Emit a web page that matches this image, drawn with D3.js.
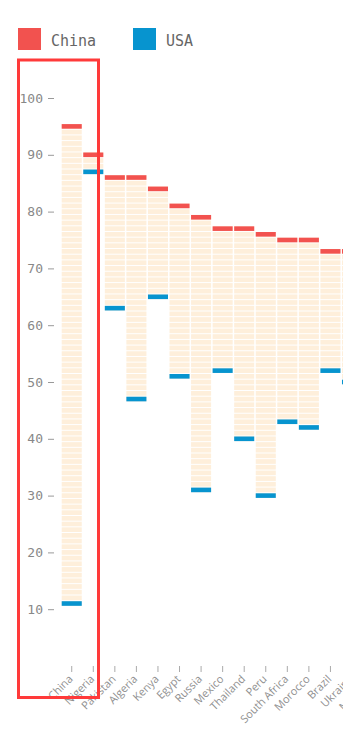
<!DOCTYPE html>
<html>
<head>
<meta charset="utf-8">
<script src="https://cdn.jsdelivr.net/npm/d3@7"></script>
<style>
  html, body { margin: 0; padding: 0; background: #fff; overflow: hidden; }
  svg { display: block; }
</style>
</head>
<body>
<svg id="chart" width="343" height="729"></svg>
<script>
const countries = ["China","Nigeria","Pakistan","Algeria","Kenya","Egypt","Russia","Mexico","Thailand","Peru","South Africa","Morocco","Brazil","Ukraine","Malaysia"];
const chinaValues = [95, 90, 86, 86, 84, 81, 79, 77, 77, 76, 75, 75, 73, 73, 72];
const usaValues   = [11, 87, 63, 47, 65, 51, 31, 52, 40, 30, 43, 42, 52, 50, 55];
const yTicks = [10, 20, 30, 40, 50, 60, 70, 80, 90, 100];
const seriesNames = ["China", "USA"];

const RED = "#f2524f", BLUE = "#0794cf", CELL = "#feefdb";
const svg = d3.select("#chart");

const y = d3.scaleLinear().domain([0, 100]).range([666, 98]);
const step = 21.56;
const x = d3.scaleBand().domain(countries)
  .range([61.7 - 0.5 * step, 61.7 - 0.5 * step + step * (countries.length - 0.07 + 1)])
  .paddingInner(0.07).paddingOuter(0.5);

const data = countries.map((c, i) => ({ c, china: chinaValues[i], usa: usaValues[i] }));

// cells
const unit = y(0) - y(1);
data.forEach(d => {
  const lo = Math.min(d.china, d.usa), hi = Math.max(d.china, d.usa);
  const cells = d3.range(lo, hi + 1);
  svg.append("g").selectAll("rect").data(cells).join("rect")
    .attr("x", x(d.c))
    .attr("width", x.bandwidth())
    .attr("y", v => y(v + 0.5) + 0.5)
    .attr("height", unit - 1)
    .attr("fill", CELL);
});

// markers
svg.append("g").selectAll("rect").data(data).join("rect")
  .attr("x", d => x(d.c)).attr("width", x.bandwidth())
  .attr("y", d => y(d.usa) - 2.3).attr("height", 4.6).attr("fill", BLUE);
svg.append("g").selectAll("rect").data(data).join("rect")
  .attr("x", d => x(d.c)).attr("width", x.bandwidth())
  .attr("y", d => y(d.china) - 2.3).attr("height", 4.6).attr("fill", RED);

// y axis
const yAxis = svg.append("g").attr("transform", "translate(54,0)")
  .call(d3.axisLeft(y).tickValues(yTicks).tickSize(6).tickPadding(5));
yAxis.select(".domain").remove();
yAxis.selectAll("line").attr("stroke", "#999");
yAxis.selectAll("text").attr("fill", "#888").style("font-family", "'DejaVu Sans Mono', monospace").style("font-size", "13px");

// x axis
const xAxis = svg.append("g").attr("transform", `translate(0,${y(0)})`)
  .call(d3.axisBottom(x).tickSize(6).tickPadding(3));
xAxis.select(".domain").remove();
xAxis.selectAll("line").attr("stroke", "#aaa");
xAxis.selectAll("text")
  .attr("fill", "#909090")
  .style("font-family", "'Open Sans', sans-serif").style("font-size", "11px")
  .attr("text-anchor", "end")
  .attr("x", 0).attr("y", 0).attr("dy", "0.35em")
  .attr("transform", "translate(-1,11) rotate(-45)");

// legend
const legend = svg.append("g");
const legColors = [RED, BLUE];
const legX = [18, 133];
seriesNames.forEach((n, i) => {
  legend.append("rect").attr("x", legX[i]).attr("y", 28).attr("width", 23).attr("height", 22).attr("fill", legColors[i]);
  legend.append("text").attr("x", legX[i] + 33).attr("y", 41).attr("dy", "0.35em")
    .attr("fill", "#666").style("font-family", "'DejaVu Sans Mono', monospace").style("font-size", "15px").text(n);
});

// highlight box
svg.append("rect").attr("x", 18.5).attr("y", 60).attr("width", 80).attr("height", 637.5)
  .attr("fill", "none").attr("stroke", "#ff3a3a").attr("stroke-width", 3);
</script>
</body>
</html>
